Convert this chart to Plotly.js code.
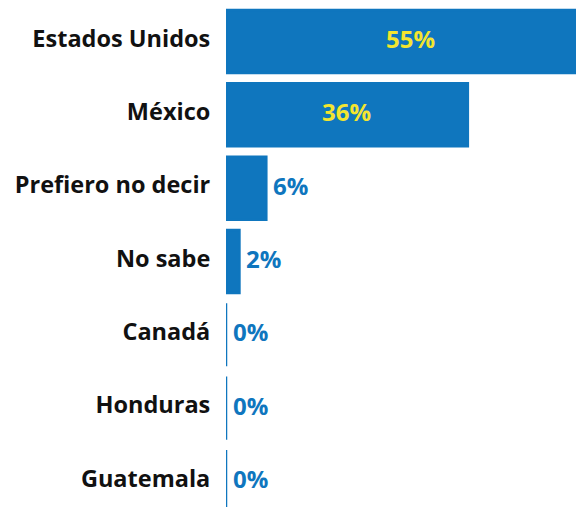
<!DOCTYPE html>
<html>
<head>
<meta charset="utf-8">
<script src="https://cdn.plot.ly/plotly-3.0.1.min.js"></script>
<style>html,body{margin:0;padding:0;background:#fff;overflow:hidden;}#chart{width:576px;height:507px;}</style>
</head>
<body>
<div id="chart"></div>
<script>
const categories = ["Estados Unidos", "México", "Prefiero no decir", "No sabe", "Canadá", "Honduras", "Guatemala"];
const values = [55, 36, 6, 2, 0, 0, 0];
const labels = ["55%", "36%", "6%", "2%", "0%", "0%", "0%"];

const BLUE = "#0f76be";
const YELLOW = "#f3e530";
const FONT = "'Open Sans', sans-serif";

const trace = {
  type: "bar",
  orientation: "h",
  y: categories,
  x: values,
  marker: {color: BLUE, line: {color: BLUE, width: 2.5}},
  hoverinfo: "none",
  showlegend: false
};

const annotations = values.map((v, i) => {
  const inside = v > 20;
  return {
    x: inside ? v / 2 : v,
    y: categories[i],
    xref: "x", yref: "y",
    text: labels[i],
    showarrow: false,
    xanchor: inside ? "center" : "left",
    xshift: inside ? 0 : 5,
    yshift: 3,
    font: {family: FONT, size: 24, weight: 700, color: inside ? YELLOW : BLUE}
  };
});

const layout = {
  width: 576, height: 507,
  margin: {l: 226, r: 0, t: 0, b: 0},
  paper_bgcolor: "#fff", plot_bgcolor: "#fff",
  bargap: 0.14,
  xaxis: {range: [0, 52.1], visible: false, fixedrange: true},
  yaxis: {
    type: "category",
    range: [6.348, -0.566],
    showgrid: false, zeroline: false, showline: false,
    ticks: "outside", ticklen: 10, tickcolor: "rgba(0,0,0,0)",
    ticklabelshift: 3,
    tickfont: {family: FONT, size: 23.5, weight: 700, color: "#111"},
    fixedrange: true
  },
  font: {family: FONT},
  annotations: annotations
};

Plotly.newPlot("chart", [trace], layout, {displayModeBar: false, staticPlot: true});
</script>
</body>
</html>
